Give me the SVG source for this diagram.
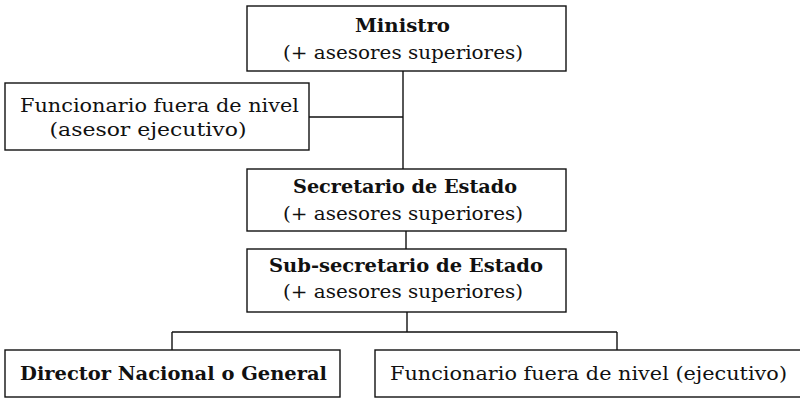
<svg xmlns="http://www.w3.org/2000/svg" width="800" height="398" viewBox="0 0 800 398">
<style>
.box{fill:#fff;stroke:#111;stroke-width:1.4}
.ln{stroke:#111;stroke-width:1.4;fill:none}
text{font-family:"DejaVu Serif","Liberation Serif",serif;font-size:19px;fill:#111;text-anchor:middle}
.b{font-weight:bold}
</style>
<rect width="800" height="398" fill="#fff"/>
<g id="connectors">
<path class="ln" d="M403 71V169M309 117H403M406 231V249M407 312V332M172 332H617M172 332V350M617 332V350"/>
</g>
<g id="ministro">
<rect class="box" x="247" y="6" width="319" height="65"/>
<text class="b" x="402.5" y="32" textLength="95" lengthAdjust="spacingAndGlyphs">Ministro</text>
<text x="403" y="59" textLength="240" lengthAdjust="spacingAndGlyphs">(+ asesores superiores)</text>
</g>
<g id="asesor">
<rect class="box" x="5" y="83" width="304" height="67"/>
<text x="159.5" y="112" textLength="279" lengthAdjust="spacingAndGlyphs">Funcionario fuera de nivel</text>
<text x="148" y="136" textLength="197" lengthAdjust="spacingAndGlyphs">(asesor ejecutivo)</text>
</g>
<g id="secretario">
<rect class="box" x="247" y="169" width="319" height="62"/>
<text class="b" x="405" y="193" textLength="224" lengthAdjust="spacingAndGlyphs">Secretario de Estado</text>
<text x="403" y="220" textLength="240" lengthAdjust="spacingAndGlyphs">(+ asesores superiores)</text>
</g>
<g id="subsecretario">
<rect class="box" x="247" y="249" width="319" height="63"/>
<text class="b" x="406" y="272" textLength="274" lengthAdjust="spacingAndGlyphs">Sub-secretario de Estado</text>
<text x="403" y="298" textLength="240" lengthAdjust="spacingAndGlyphs">(+ asesores superiores)</text>
</g>
<g id="director">
<rect class="box" x="5" y="350" width="335" height="47"/>
<text class="b" x="173.5" y="380" textLength="307" lengthAdjust="spacingAndGlyphs">Director Nacional o General</text>
</g>
<g id="funcionario">
<rect class="box" x="375" y="350" width="430" height="47"/>
<text x="588.5" y="380" textLength="397" lengthAdjust="spacingAndGlyphs">Funcionario fuera de nivel (ejecutivo)</text>
</g>
</svg>
